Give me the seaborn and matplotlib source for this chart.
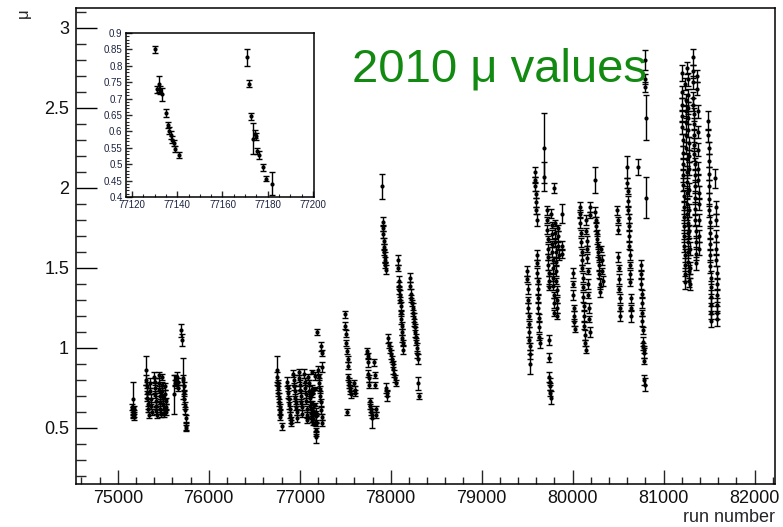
import matplotlib
matplotlib.use("Agg")
import matplotlib.pyplot as plt
import numpy as np
import pandas as pd
import seaborn as sns
from matplotlib.ticker import MultipleLocator

# ---------------- data ----------------
# 2010 runs 75000-78400
run_early = [
    75160, 75163, 75166, 75169, 75172, 75175, 75178, 75182,
    75312, 75315, 75318, 75322, 75326, 75330, 75334, 75338,
    75352, 75357, 75362, 75367, 75372,
    75400, 75404, 75408, 75412, 75416, 75420, 75424, 75428,
    75448, 75452, 75456, 75460, 75464, 75468, 75472,
    75482, 75486, 75490, 75494, 75498, 75502, 75506,
    75516, 75520, 75524, 75528, 75532,
    75612, 75625, 75630, 75650, 75655, 75660, 75665, 75690, 75700,
    75715, 75720, 75724, 75728, 75732, 75736, 75740, 75744, 75748, 75752,
    76750, 76754, 76758, 76762, 76766, 76770, 76774, 76778, 76782, 76786, 76800,
    76860, 76866, 76872, 76878, 76884, 76890, 76896, 76902, 76908,
    76930, 76935, 76940, 76945, 76950, 76955, 76960, 76965, 76970,
    76990, 76995, 77000, 77005, 77010, 77015, 77020, 77025,
    77050, 77055, 77060, 77065, 77070, 77075, 77080, 77085,
    77095, 77100, 77105, 77110, 77115,
    77190, 77205, 77210, 77215, 77220, 77225, 77230, 77235, 77240, 77245,
    77238, 77242, 77248,
    77495, 77500, 77505, 77510, 77515, 77520, 77525, 77530, 77535, 77540,
    77545, 77550, 77555, 77560, 77600, 77605, 77610,
    77740, 77745, 77750, 77755, 77760, 77765, 77770, 77775, 77780, 77785,
    77790, 77795, 77820, 77825, 77830, 77835, 77840,
    77905, 77910, 77914, 77918, 77922, 77926, 77930, 77934, 77938, 77942,
    77946, 77950, 77954, 77958,
    77970, 77980, 77990, 78000, 78010, 78020, 78030, 78040, 78050, 78060,
    78080, 78084, 78088, 78092, 78096, 78100, 78104, 78108, 78112, 78116,
    78120, 78124, 78128, 78132, 78136,
    78210, 78216, 78222, 78228, 78234, 78240, 78246, 78252, 78258, 78264,
    78270, 78276, 78282, 78288, 78294, 78300, 78304, 78310,
]
mu_early = [
    0.63, 0.61, 0.58, 0.68, 0.60, 0.57, 0.62, 0.59,
    0.86, 0.80, 0.76, 0.72, 0.69, 0.65, 0.62, 0.58,
    0.78, 0.73, 0.68, 0.64, 0.60,
    0.82, 0.79, 0.75, 0.71, 0.67, 0.64, 0.61, 0.58,
    0.83, 0.78, 0.74, 0.70, 0.66, 0.62, 0.59,
    0.82, 0.77, 0.73, 0.69, 0.65, 0.62, 0.59,
    0.76, 0.71, 0.67, 0.63, 0.60,
    0.71, 0.80, 0.78, 0.82, 0.77, 0.75, 0.79, 1.11, 1.05,
    0.81, 0.80, 0.76, 0.72, 0.68, 0.64, 0.61, 0.56, 0.51, 0.50,
    0.86, 0.82, 0.78, 0.75, 0.72, 0.69, 0.66, 0.63, 0.60, 0.57, 0.51,
    0.79, 0.75, 0.72, 0.68, 0.65, 0.62, 0.58, 0.55, 0.53,
    0.84, 0.80, 0.76, 0.73, 0.69, 0.66, 0.63, 0.60, 0.56,
    0.85, 0.81, 0.77, 0.74, 0.70, 0.66, 0.63, 0.59,
    0.84, 0.79, 0.75, 0.71, 0.67, 0.62, 0.58, 0.55,
    0.82, 0.78, 0.73, 0.69, 0.64,
    1.10, 0.86, 0.82, 0.78, 0.74, 0.70, 0.66, 0.61, 0.57, 0.53,
    1.01, 0.97, 0.88,
    1.21, 1.14, 1.09, 1.03, 0.98, 0.60, 0.93, 0.89, 0.82, 0.79,
    0.77, 0.75, 0.73, 0.71, 0.78, 0.74, 0.72,
    0.98, 0.95, 0.91, 0.84, 0.81, 0.77, 0.67, 0.64, 0.62, 0.60,
    0.58, 0.56, 0.91, 0.83, 0.77, 0.62, 0.58,
    2.01, 1.79, 1.75, 1.71, 1.67, 1.63, 1.60, 1.57, 1.55, 1.52,
    1.49, 0.75, 0.72, 0.70,
    1.06, 1.02, 0.99, 0.96, 0.93, 0.90, 0.87, 0.84, 0.81, 0.78,
    1.55, 1.50, 1.42, 1.39, 1.36, 1.33, 1.30, 1.26, 1.22, 1.18,
    1.14, 1.10, 1.06, 1.03, 0.99,
    1.44, 1.39, 1.34, 1.31, 1.28, 1.25, 1.22, 1.19, 1.16, 1.13,
    1.10, 1.07, 1.04, 1.00, 0.96, 0.93, 0.78, 0.70,
]
err_early = [
    0.02, 0.02, 0.02, 0.11, 0.02, 0.02, 0.02, 0.02,
    0.09, 0.03, 0.03, 0.03, 0.02, 0.03, 0.02, 0.02,
    0.03, 0.02, 0.03, 0.02, 0.02,
    0.03, 0.02, 0.03, 0.02, 0.03, 0.02, 0.02, 0.02,
    0.02, 0.03, 0.02, 0.03, 0.02, 0.03, 0.02,
    0.02, 0.02, 0.03, 0.02, 0.03, 0.02, 0.02,
    0.02, 0.03, 0.02, 0.02, 0.02,
    0.12, 0.03, 0.02, 0.03, 0.02, 0.02, 0.02, 0.04, 0.04,
    0.13, 0.03, 0.03, 0.02, 0.03, 0.02, 0.02, 0.02, 0.02, 0.02,
    0.09, 0.03, 0.02, 0.03, 0.02, 0.03, 0.02, 0.02, 0.02, 0.02, 0.02,
    0.03, 0.02, 0.03, 0.02, 0.03, 0.02, 0.02, 0.02, 0.02,
    0.02, 0.03, 0.02, 0.03, 0.02, 0.02, 0.02, 0.02, 0.02,
    0.02, 0.02, 0.03, 0.02, 0.03, 0.02, 0.02, 0.02,
    0.03, 0.02, 0.03, 0.02, 0.02, 0.02, 0.02, 0.02,
    0.02, 0.02, 0.03, 0.02, 0.02,
    0.02, 0.03, 0.02, 0.03, 0.02, 0.03, 0.02, 0.02, 0.02, 0.02,
    0.03, 0.02, 0.03,
    0.02, 0.02, 0.02, 0.02, 0.02, 0.02, 0.02, 0.02, 0.02, 0.02,
    0.02, 0.02, 0.02, 0.02, 0.02, 0.02, 0.02,
    0.02, 0.02, 0.03, 0.02, 0.02, 0.02, 0.02, 0.02, 0.02, 0.02,
    0.02, 0.06, 0.02, 0.02, 0.02, 0.02, 0.02,
    0.08, 0.03, 0.02, 0.02, 0.02, 0.02, 0.02, 0.03, 0.02, 0.02,
    0.03, 0.03, 0.02, 0.03,
    0.03, 0.02, 0.02, 0.03, 0.02, 0.02, 0.03, 0.02, 0.02, 0.02,
    0.03, 0.02, 0.03, 0.02, 0.02, 0.03, 0.02, 0.03, 0.02, 0.03,
    0.02, 0.02, 0.02, 0.02, 0.03,
    0.03, 0.02, 0.03, 0.02, 0.02, 0.03, 0.02, 0.03, 0.02, 0.02,
    0.03, 0.02, 0.02, 0.03, 0.02, 0.03, 0.04, 0.02,
]

# 2010 runs 79500-81700
run_late = [
    79500, 79503, 79506, 79509, 79512, 79515, 79518, 79521, 79524, 79527, 79530, 79533,
    79585, 79588, 79591, 79594, 79597, 79600, 79603, 79606, 79609, 79612, 79615,
    79618, 79621, 79624, 79627, 79630, 79633, 79636,
    79682, 79690,
    79715, 79718, 79721, 79724, 79727, 79730, 79733, 79736, 79739, 79742,
    79735, 79740, 79744, 79748, 79752, 79756, 79760,
    79765, 79768, 79771, 79774, 79777, 79780, 79783, 79786, 79789, 79792, 79795, 79798,
    79800, 79803, 79806, 79809, 79812, 79815, 79818, 79821, 79824, 79827, 79830, 79833,
    79836, 79839, 79842, 79845,
    79880, 79884, 79888,
    80000, 80004, 80008, 80012, 80016, 80020, 80024,
    80078, 80082, 80086, 80090, 80094, 80098, 80102, 80106, 80110, 80114,
    80118, 80122, 80126, 80130, 80134, 80138, 80142,
    80146, 80150, 80154, 80158, 80162, 80166, 80170, 80174, 80178, 80182, 80186,
    80190, 80195,
    80243, 80250, 80255, 80260, 80265, 80270, 80275, 80280, 80285, 80290, 80295,
    80300, 80305, 80315, 80320, 80325, 80330,
    80490, 80494, 80498, 80502, 80506, 80510, 80514, 80518, 80522, 80526,
    80600, 80603, 80606, 80609, 80612, 80615, 80618, 80621, 80624, 80627,
    80630, 80633, 80636, 80639, 80642, 80645,
    80716,
    80750, 80753, 80756, 80759, 80762, 80765, 80768, 80771, 80774, 80777,
    80780, 80783, 80786, 80789, 80792,
    80795, 80798, 80800, 80803, 80806,
    81200, 81202, 81204, 81206, 81208, 81210, 81212, 81214, 81216, 81218,
    81220, 81222, 81224, 81226, 81228, 81230, 81232, 81234, 81236, 81238,
    81241, 81243, 81245, 81247, 81249, 81251, 81253, 81255, 81257, 81259,
    81261, 81263, 81265, 81267, 81269, 81271, 81273, 81275, 81277,
    81262, 81264, 81266, 81268, 81270, 81272, 81274, 81276, 81278, 81280,
    81282, 81284, 81286, 81288, 81290,
    81320, 81322, 81324, 81326, 81328, 81330, 81332, 81334, 81336, 81338,
    81340, 81342, 81344, 81346, 81348, 81350, 81352, 81354, 81356, 81358,
    81370, 81372, 81374, 81376, 81378, 81380, 81382, 81384, 81386, 81388,
    81390, 81392,
    81490, 81492, 81494, 81496, 81498, 81500, 81502, 81504, 81506, 81508,
    81510, 81512, 81514, 81516, 81518, 81520, 81522, 81524, 81526,
    81570, 81572, 81574, 81576, 81578, 81580, 81582, 81584, 81586, 81588,
    81590, 81592,
]
mu_late = [
    1.48, 1.43, 1.37, 1.30, 1.25, 1.20, 1.15, 1.10, 1.05, 1.01, 0.96, 0.90,
    2.10, 2.05, 2.01, 1.96, 1.91, 1.86, 1.80, 1.58, 1.53, 1.47, 1.42,
    1.37, 1.31, 1.25, 1.19, 1.13, 1.07, 1.03,
    2.25, 2.07,
    1.86, 1.80, 1.74, 1.68, 1.62, 1.57, 1.52, 1.47, 1.42, 1.38,
    1.05, 0.94, 0.82, 0.79, 0.76, 0.72, 0.69,
    1.84, 1.77, 1.71, 1.65, 1.60, 1.55, 1.50, 1.44, 1.39, 1.33, 1.28, 1.22,
    2.00, 1.78, 1.72, 1.66, 1.60, 1.54, 1.48, 1.42, 1.36, 1.30, 1.25, 1.20,
    1.75, 1.70, 1.64, 1.58,
    1.84, 1.64, 1.59,
    1.47, 1.40, 1.33, 1.25, 1.20, 1.16, 1.12,
    1.88, 1.84, 1.78, 1.72, 1.66, 1.60, 1.55, 1.50, 1.44, 1.38,
    1.32, 1.26, 1.20, 1.14, 1.08, 1.03, 0.99,
    1.80, 1.73, 1.67, 1.62, 1.56, 1.48, 1.40, 1.33, 1.25, 1.18, 1.10,
    1.88, 1.83,
    2.05, 1.85, 1.80, 1.76, 1.72, 1.68, 1.64, 1.60, 1.56, 1.52, 1.46,
    1.40, 1.35, 1.62, 1.55, 1.48, 1.42,
    1.86, 1.80, 1.74, 1.57, 1.50, 1.43, 1.37, 1.31, 1.25, 1.20,
    2.13, 2.03, 1.98, 1.92, 1.86, 1.81, 1.76, 1.70, 1.64, 1.58,
    1.52, 1.46, 1.41, 1.31, 1.25, 1.20,
    2.13,
    1.52, 1.46, 1.40, 1.34, 1.28, 1.22, 1.17, 1.11, 1.04, 1.01,
    0.99, 0.97, 0.92, 0.80, 0.77,
    2.80, 2.68, 2.63, 2.44, 1.94,
    2.72, 2.60, 2.52, 2.45, 2.38, 2.30, 2.22, 2.15, 2.08, 2.02,
    1.95, 1.88, 1.82, 1.76, 1.70, 1.64, 1.58, 1.52, 1.46, 1.41,
    2.65, 2.55, 2.48, 2.41, 2.33, 2.25, 2.18, 2.10, 2.04, 1.97,
    1.90, 1.84, 1.78, 1.72, 1.66, 1.60, 1.54, 1.48, 1.42,
    2.75, 2.68, 2.58, 2.50, 2.44, 2.36, 2.28, 2.20, 2.12, 1.99,
    1.86, 1.73, 1.62, 1.50, 1.40,
    2.82, 2.73, 2.66, 2.56, 2.52, 2.46, 2.40, 2.33, 2.27, 2.21,
    2.15, 2.08, 2.01, 1.94, 1.87, 1.80, 1.73, 1.66, 1.59, 1.53,
    2.70, 2.62, 2.48, 2.35, 2.24, 2.12, 2.05, 1.97, 1.90, 1.80,
    1.70, 1.62,
    2.42, 2.33, 2.25, 2.17, 2.09, 2.01, 1.93, 1.86, 1.79, 1.72,
    1.65, 1.58, 1.51, 1.44, 1.38, 1.32, 1.27, 1.22, 1.17,
    2.06, 1.88, 1.80, 1.70, 1.62, 1.55, 1.47, 1.40, 1.33, 1.27,
    1.22, 1.18,
]
err_late = [
    0.03, 0.02, 0.03, 0.02, 0.03, 0.02, 0.02, 0.03, 0.02, 0.02, 0.03, 0.06,
    0.03, 0.02, 0.03, 0.02, 0.03, 0.02, 0.04, 0.03, 0.02, 0.03, 0.02,
    0.03, 0.02, 0.03, 0.02, 0.03, 0.02, 0.03,
    0.22, 0.09,
    0.03, 0.02, 0.03, 0.02, 0.03, 0.02, 0.03, 0.02, 0.03, 0.02,
    0.03, 0.03, 0.03, 0.02, 0.02, 0.02, 0.04,
    0.03, 0.02, 0.03, 0.02, 0.03, 0.02, 0.03, 0.02, 0.03, 0.02, 0.03, 0.02,
    0.03, 0.02, 0.03, 0.02, 0.03, 0.02, 0.03, 0.02, 0.03, 0.02, 0.03, 0.02,
    0.02, 0.03, 0.02, 0.03,
    0.06, 0.03, 0.03,
    0.03, 0.02, 0.03, 0.02, 0.03, 0.02, 0.02,
    0.03, 0.02, 0.03, 0.02, 0.03, 0.02, 0.03, 0.02, 0.03, 0.02,
    0.03, 0.02, 0.03, 0.02, 0.03, 0.02, 0.02,
    0.03, 0.02, 0.03, 0.02, 0.03, 0.02, 0.03, 0.02, 0.03, 0.02, 0.03,
    0.03, 0.02,
    0.08, 0.03, 0.02, 0.03, 0.02, 0.03, 0.02, 0.03, 0.02, 0.03, 0.02,
    0.03, 0.03, 0.02, 0.03, 0.02, 0.03,
    0.03, 0.02, 0.03, 0.03, 0.02, 0.03, 0.02, 0.03, 0.02, 0.03,
    0.07, 0.03, 0.02, 0.03, 0.02, 0.03, 0.02, 0.03, 0.02, 0.03,
    0.02, 0.03, 0.02, 0.03, 0.02, 0.04,
    0.05,
    0.03, 0.02, 0.03, 0.02, 0.03, 0.02, 0.03, 0.02, 0.03, 0.02,
    0.02, 0.03, 0.02, 0.03, 0.04,
    0.06, 0.03, 0.03, 0.14, 0.13,
    0.05, 0.04, 0.04, 0.04, 0.04, 0.04, 0.04, 0.04, 0.04, 0.04,
    0.04, 0.04, 0.04, 0.04, 0.04, 0.04, 0.04, 0.04, 0.04, 0.04,
    0.04, 0.04, 0.04, 0.04, 0.04, 0.04, 0.04, 0.04, 0.04, 0.04,
    0.04, 0.04, 0.04, 0.04, 0.04, 0.04, 0.04, 0.04, 0.04,
    0.04, 0.04, 0.04, 0.04, 0.04, 0.04, 0.04, 0.04, 0.04, 0.04,
    0.04, 0.04, 0.04, 0.04, 0.04,
    0.05, 0.04, 0.04, 0.04, 0.04, 0.04, 0.04, 0.04, 0.04, 0.04,
    0.04, 0.04, 0.04, 0.04, 0.04, 0.04, 0.04, 0.04, 0.04, 0.04,
    0.04, 0.04, 0.04, 0.04, 0.04, 0.04, 0.04, 0.04, 0.04, 0.04,
    0.04, 0.04,
    0.06, 0.04, 0.04, 0.04, 0.04, 0.04, 0.04, 0.04, 0.04, 0.04,
    0.04, 0.04, 0.04, 0.04, 0.04, 0.04, 0.04, 0.04, 0.04,
    0.06, 0.04, 0.04, 0.04, 0.04, 0.04, 0.04, 0.04, 0.04, 0.04,
    0.04, 0.04,
]

# zoomed-in runs 77130 - 77182 (inset, also part of the main graph)
run_zoom = [77130.3, 77131.3, 77131.8, 77132.4, 77133.1, 77134.9, 77135.8,
            77136.6, 77137.2, 77137.8, 77138.4, 77139.1, 77140.6,
            77170.7, 77171.8, 77172.4, 77173.6, 77174.3, 77174.8, 77175.4,
            77176.2, 77178.0, 77179.0, 77181.7]
mu_zoom = [0.850, 0.728, 0.745, 0.725, 0.713, 0.656, 0.620,
           0.602, 0.590, 0.575, 0.565, 0.546, 0.528,
           0.826, 0.746, 0.646, 0.578, 0.593, 0.585, 0.540,
           0.527, 0.490, 0.456, 0.441]
err_zoom = [0.010, 0.010, 0.025, 0.012, 0.020, 0.012, 0.010,
            0.010, 0.012, 0.010, 0.010, 0.010, 0.010,
            0.026, 0.010, 0.010, 0.048, 0.012, 0.010, 0.010,
            0.012, 0.010, 0.008, 0.035]

x_ticks_main = [75000, 76000, 77000, 78000, 79000, 80000, 81000, 82000]
y_ticks_main = [0.5, 1, 1.5, 2, 2.5, 3]
x_ticks_zoom = [77120, 77140, 77160, 77180, 77200]
y_ticks_zoom = [0.4, 0.45, 0.5, 0.55, 0.6, 0.65, 0.7, 0.75, 0.8, 0.85, 0.9]

title_text = "2010 \u03bc values"
x_title = "run number"
y_title = "\u03bc"

# ---------------- build tables ----------------
main_df = pd.DataFrame({
    "run": run_early + run_zoom + run_late,
    "mu": mu_early + mu_zoom + mu_late,
    "err": err_early + err_zoom + err_late,
})
zoom_df = pd.DataFrame({"run": run_zoom, "mu": mu_zoom, "err": err_zoom})

# ---------------- style ----------------
sns.set_theme(style="ticks")
plt.rcParams["font.family"] = ["Liberation Sans", "DejaVu Sans"]
plt.rcParams["axes.linewidth"] = 1.1
plt.rcParams["axes.edgecolor"] = "black"

fig = plt.figure(figsize=(7.83, 5.27), dpi=100)
W, H = 783.0, 527.0

# main axes
ax = fig.add_axes([76 / W, 1 - 484 / H, (775 - 76) / W, (484 - 8) / H])
ax.errorbar(main_df["run"], main_df["mu"], yerr=main_df["err"], fmt="none",
            ecolor="black", elinewidth=1.0, capsize=2.3, capthick=1.0, zorder=2)
sns.scatterplot(data=main_df, x="run", y="mu", ax=ax, color="black", s=9,
                linewidth=0, zorder=3, legend=False)
ax.set_xlim(74540, 82225)
ax.set_ylim(0.15, 3.125)
ax.set_xticks(x_ticks_main)
ax.set_yticks(y_ticks_main)
ax.set_yticklabels([f"{v:g}" for v in y_ticks_main])
ax.xaxis.set_minor_locator(MultipleLocator(200))
ax.yaxis.set_minor_locator(MultipleLocator(0.1))
ax.tick_params(axis="y", which="major", direction="in", length=15, width=1.0,
               labelsize=13, pad=5, colors="black", labelcolor="#111111")
ax.tick_params(axis="y", which="minor", direction="in", length=7.5, width=1.0)
ax.tick_params(axis="x", which="major", direction="in", length=10, width=1.0,
               labelsize=13, pad=4, labelcolor="#111111")
ax.tick_params(axis="x", which="minor", direction="in", length=5, width=1.0)
ax.set_xlabel(x_title, loc="right", fontsize=13, labelpad=2)
ax.set_ylabel(y_title, loc="top", fontsize=12, labelpad=0)
ax.yaxis.set_label_coords(-0.065, 1.0)
for s in ax.spines.values():
    s.set_linewidth(1.1)

# inset axes
axi = fig.add_axes([126 / W, 1 - 197 / H, 188 / W, 164 / H])
axi.errorbar(zoom_df["run"], zoom_df["mu"], yerr=zoom_df["err"], fmt="none",
             ecolor="black", elinewidth=1.0, capsize=2.3, capthick=1.0, zorder=2)
sns.scatterplot(data=zoom_df, x="run", y="mu", ax=axi, color="black", s=9,
                linewidth=0, zorder=3, legend=False)
axi.set_xlim(77117.4, 77200.4)
axi.set_ylim(0.4, 0.9)
axi.set_xticks(x_ticks_zoom)
axi.set_yticks(y_ticks_zoom)
axi.set_yticklabels([f"{v:g}" for v in y_ticks_zoom])
axi.xaxis.set_minor_locator(MultipleLocator(5))
axi.yaxis.set_minor_locator(MultipleLocator(0.01))
axi.tick_params(axis="y", which="major", direction="in", length=4.5, width=1.0,
                labelsize=7, pad=2.5, labelcolor="#1c2340")
axi.tick_params(axis="x", which="major", direction="in", length=4.5, width=1.0,
                labelsize=7, pad=2.5, labelcolor="#1c2340")
axi.tick_params(axis="both", which="minor", direction="in", length=2, width=0.8)
axi.set_xlabel("")
axi.set_ylabel("")
for s in axi.spines.values():
    s.set_linewidth(1.1)

# big green title
fig.text(352 / W, 1 - 82 / H, title_text, color="#128a12", fontsize=34,
         ha="left", va="baseline")

fig.savefig("out.png", dpi=100)
